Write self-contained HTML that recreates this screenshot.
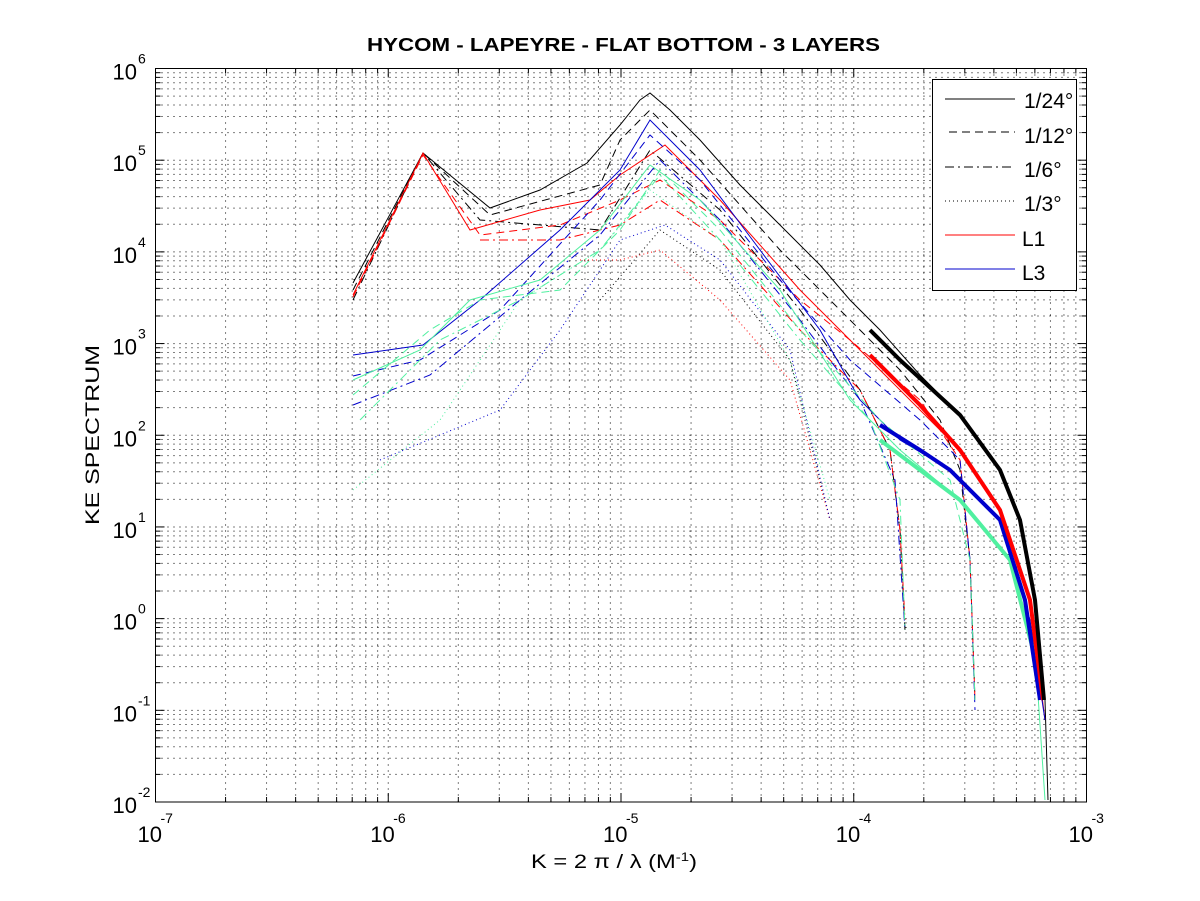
<!DOCTYPE html>
<html><head><meta charset="utf-8"><style>
body{margin:0;background:#fff}
svg{display:block;font-family:"Liberation Sans",sans-serif}
</style></head><body>
<svg id="s" width="1200" height="901" xmlns="http://www.w3.org/2000/svg">
<rect width="1200" height="901" fill="#fff"/>
<g id="grid"></g>
<g id="data" fill="none"></g>
<rect x="155.5" y="68.5" width="931" height="733.5" fill="none" stroke="#000" stroke-width="1"/>
<g id="ticks"></g>
<text x="367" y="51" font-size="18" font-weight="bold" textLength="513" lengthAdjust="spacingAndGlyphs">HYCOM - LAPEYRE - FLAT BOTTOM - 3 LAYERS</text>
<text x="531" y="868" font-size="19" textLength="166" lengthAdjust="spacingAndGlyphs">K = 2 π / λ  (M<tspan dy="-7" font-size="12">-1</tspan><tspan dy="7">)</tspan></text>
<text transform="translate(99,525) rotate(-90)" font-size="19" textLength="180" lengthAdjust="spacingAndGlyphs">KE SPECTRUM</text>
<g id="legend">
<rect x="932.5" y="79.5" width="144" height="211" fill="#fff" stroke="#000"/>
<line x1="945" y1="99" x2="1015" y2="99" stroke="#000"/>
<line x1="949" y1="132" x2="1015" y2="132" stroke="#000" stroke-dasharray="8,5"/>
<line x1="945" y1="167" x2="1015" y2="167" stroke="#000" stroke-dasharray="9,4,2,4"/>
<line x1="945" y1="201" x2="1015" y2="201" stroke="#000" stroke-dasharray="1,3"/>
<line x1="945" y1="235" x2="1015" y2="235" stroke="#f00"/>
<line x1="945" y1="269" x2="1015" y2="269" stroke="#00c"/>
<g font-size="21"><text x="1024" y="108">1/24°</text><text x="1024" y="143">1/12°</text><text x="1024" y="177">1/6°</text><text x="1024" y="211">1/3°</text><text x="1022" y="246">L1</text><text x="1022" y="280">L3</text></g>
</g>
</svg>
<script>
const NS="http://www.w3.org/2000/svg";
function el(p,t,a,txt){const e=document.createElementNS(NS,t);for(const k in a)e.setAttribute(k,a[k]);if(txt!=null)e.textContent=txt;document.getElementById(p).appendChild(e);return e;}
const L=155.5,R=1086.5,T=68.5,B=802;
const dx=(R-L)/4, dy=(B-T)/8;
for(let d=0;d<4;d++)for(let m=1;m<=9;m++){
 const x=L+(d+Math.log10(m))*dx;
 if(!(d==0&&m==1)) el("grid","line",{x1:x,y1:T,x2:x,y2:B,stroke:"#000","stroke-dasharray":"1,5"});
 const len=m==1?9:5;
 el("ticks","line",{x1:x,y1:B,x2:x,y2:B-len,stroke:"#000"});
 el("ticks","line",{x1:x,y1:T,x2:x,y2:T+len,stroke:"#000"});
}
for(let d=0;d<8;d++)for(let m=1;m<10;m++){
 const y=B-(d+Math.log10(m))*dy;
 if(!(d==0&&m==1)) el("grid","line",{x1:L,y1:y,x2:R,y2:y,stroke:"#000","stroke-dasharray":"1,5"});
 const len=m==1?9:5;
 el("ticks","line",{x1:L,y1:y,x2:L+len,y2:y,stroke:"#000"});
 el("ticks","line",{x1:R,y1:y,x2:R-len,y2:y,stroke:"#000"});
}
for(let d=0;d<=4;d++){const x=L+d*dx;
 el("ticks","text",{x:x-18,y:842,"font-size":22},"10");
 el("ticks","text",{x:x+5,y:823,"font-size":14},"-"+(7-d));
}
for(let d=0;d<=8;d++){const y=B-d*dy;const e=d-2;
 el("ticks","text",{x:137,y:y+11,"font-size":22,"text-anchor":"end"},"10");
 el("ticks","text",{x:138,y:y-5,"font-size":14},String(e));
}
const G="#50f0a0";
const S=[
 ["#000","",1,[[353,283],[423,153],[490,208],[540,190],[587,163],[620,125],[640,100],[650,93],[670,110],[700,140],[740,185],[780,225],[820,265],[850,300],[880,330],[920,375],[960,415],[1000,470],[1020,520],[1035,600],[1045,700],[1048,800]]],
 ["#000","8,5",1,[[353,290],[423,153],[490,215],[600,185],[620,140],[650,110],[700,160],[780,250],[850,320],[900,370],[940,420],[960,470],[970,560],[975,700]]],
 ["#000","9,4,2,4",1,[[353,300],[423,153],[480,220],[600,230],[650,150],[720,210],[800,310],[860,390],[890,450],[900,530],[905,630]]],
 ["#000","1,3",1,[[600,300],[660,230],[720,270],[790,360],[830,520]]],
 ["#f00","",1,[[353,295],[423,153],[470,230],[540,210],[590,200],[620,175],[665,145],[720,200],[800,290],[860,350],[920,410],[960,450],[1000,510],[1030,600],[1045,720]]],
 ["#f00","8,5",1,[[353,297],[423,155],[480,235],[560,225],[620,200],[660,180],[720,220],[800,300],[850,340],[920,400],[960,460],[970,560],[975,700]]],
 ["#f00","9,4,2,4",1,[[480,240],[560,240],[620,225],[660,200],[720,240],[800,330],[860,390],[890,450],[900,530],[905,620]]],
 ["#f00","1,3",1,[[580,260],[620,260],[660,250],[720,300],[790,380],[830,520]]],
 ["#00c","",1,[[353,355],[423,345],[480,300],[560,230],[620,170],[650,120],[700,170],[760,250],[820,330],[860,400],[900,440],[950,470],[1000,520],[1030,620],[1045,720]]],
 ["#00c","8,5",1,[[353,376],[420,360],[500,310],[600,200],[650,135],[700,180],[780,280],[850,360],[920,420],[960,460],[970,560],[975,710]]],
 ["#00c","9,4,2,4",1,[[353,405],[430,375],[520,300],[600,235],[660,160],[720,220],[800,320],[860,400],[895,480],[905,630]]],
 ["#00c","1,3",1,[[380,460],[500,410],[560,330],[620,240],[665,225],[720,260],[790,350],[830,520]]],
 [G,"",1,[[353,380],[420,350],[470,300],[540,280],[600,230],[650,165],[700,200],[780,290],[850,400],[900,450],[960,500],[1010,560],[1035,650],[1045,800]]],
 [G,"8,5",1,[[353,395],[430,330],[480,300],[560,290],[620,230],[660,170],[720,230],[800,330],[880,420],[950,480],[970,560],[975,700]]],
 [G,"9,4,2,4",1,[[360,420],[440,340],[520,300],[600,250],[660,175],[720,240],[800,340],[870,420],[900,500],[905,630]]],
 [G,"1,3",1,[[353,490],[440,420],[520,300],[600,250],[650,190],[720,240],[790,360],[830,500]]],
];
for(const [c,da,w,p] of S){
 el("data","polyline",{points:p.map(a=>a.join(",")).join(" "),stroke:c,"stroke-width":w,"stroke-dasharray":da});
}
const tails=[
 [G,[[880,440],[920,470],[960,500],[1010,560],[1033,650]],4],
 ["#00c",[[880,425],[920,450],[950,470],[1000,520],[1025,600],[1040,700]],4],
 ["#f00",[[870,355],[920,405],[960,450],[1000,510],[1030,600],[1043,700]],4],
 ["#000",[[870,330],[900,360],[960,415],[1000,470],[1020,520],[1035,600],[1044,700]],4]];
for(const [c,p,w] of tails) el("data","polyline",{points:p.map(a=>a.join(",")).join(" "),stroke:c,"stroke-width":w});
</script>
</body></html>
